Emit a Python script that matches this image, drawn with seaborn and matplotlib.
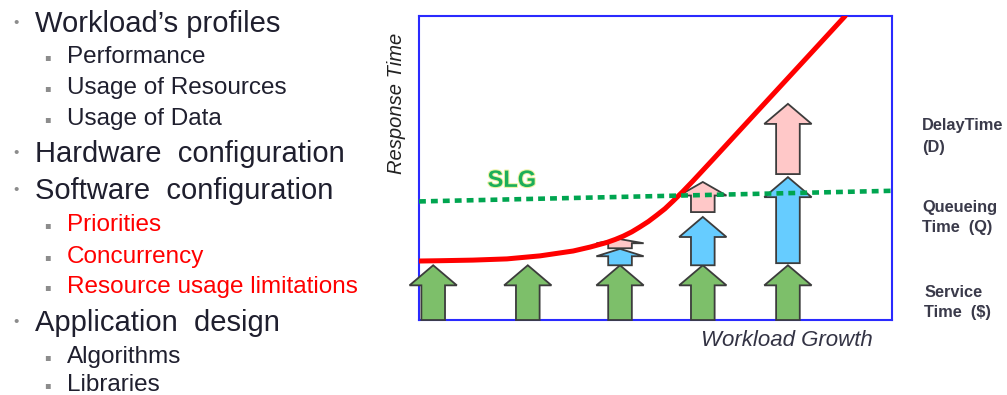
import numpy as np
import pandas as pd
import seaborn as sns
import matplotlib.pyplot as plt
import matplotlib.patheffects as pe

sns.set_theme(style="white")
plt.rcParams['font.family'] = ['Liberation Sans', 'DejaVu Sans']

# left outline
outline_text = ["Workload\u2019s profiles", "Performance", "Usage of Resources", "Usage of Data",
                "Hardware  configuration", "Software  configuration", "Priorities", "Concurrency",
                "Resource usage limitations", "Application  design", "Algorithms", "Libraries"]
outline_level = [0, 1, 1, 1, 0, 0, 1, 1, 1, 0, 1, 1]
outline_red = [0, 0, 0, 0, 0, 0, 1, 1, 1, 0, 0, 0]
outline_baseline = [32, 63, 94, 125, 162, 199, 231, 263, 293, 331, 363, 391]  # px from top

# response time curve (workload growth -> response time)
curve_x = [0, 0.44, 1.14, 1.86, 2.56, 3.26, 3.62, 3.97, 4.15, 4.32, 4.5, 4.67, 4.85, 5.02,
           5.2, 5.37, 5.58, 5.79, 6.22, 6.93, 7.63, 8.33, 9.01]
curve_y = [1.94, 1.95, 1.97, 2.01, 2.11, 2.27, 2.4, 2.55, 2.65, 2.76, 2.9, 3.06, 3.24, 3.44,
           3.66, 3.91, 4.23, 4.57, 5.29, 6.49, 7.67, 8.85, 10.0]

# service level goal
slg_x = [0, 10]
slg_y = [3.9, 4.25]

# stacked arrows at five workload levels
arrow_x = [0.3, 2.3, 4.25, 6.0, 7.8]
service_top = [1.8, 1.8, 1.8, 1.8, 1.8]
queue_base = [1.8, 1.8, 1.8, 1.8, 1.87]
queue_top = [1.8, 1.8, 2.34, 3.39, 4.7]
delay_base = [1.8, 1.8, 2.36, 3.55, 4.8]
delay_top = [1.8, 1.8, 2.66, 4.54, 7.11]

side_text = ["DelayTime", "(D)", "Queueing", "Time  (Q)", "Service", "Time  ($)"]
side_pos = [(922, 130), (922, 152), (922, 212), (922, 232), (925, 297), (924, 317)]

fig = plt.figure(figsize=(10.07, 3.95), dpi=100)
W, H = 1007, 395

ax = fig.add_axes([419 / W, 1 - 320 / H, 473 / W, 304 / H])
ax.set_xlim(0, 10)
ax.set_ylim(0, 10)
ax.set_xticks([])
ax.set_yticks([])
for s in ax.spines.values():
    s.set_color("#2a2aff")
    s.set_linewidth(1.5)
    s.set_visible(True)


def up_arrow(x, y0, y1, color):
    length = y1 - y0
    if length <= 0:
        return
    hl = min(0.66, 0.45 * length)
    ax.arrow(x, y0, 0, length, width=0.5, head_width=1.0, head_length=hl,
             length_includes_head=True, fc=color, ec="#3c3c3c", lw=1.3,
             clip_on=False, zorder=3)


for i in range(len(arrow_x)):
    up_arrow(arrow_x[i], 0, service_top[i], "#7dbf6a")
    up_arrow(arrow_x[i], queue_base[i], queue_top[i], "#66ccff")
    up_arrow(arrow_x[i], delay_base[i], delay_top[i], "#ffc8c8")

df_curve = pd.DataFrame({"growth": curve_x, "resp": curve_y})
sns.lineplot(data=df_curve, x="growth", y="resp", color="#ff0000", lw=3.6, ax=ax,
             zorder=4, solid_capstyle="round", solid_joinstyle="round")
df_slg = pd.DataFrame({"growth": slg_x, "resp": slg_y})
sns.lineplot(data=df_slg, x="growth", y="resp", color="#00a550", lw=3.3, ax=ax,
             linestyle=(0, (1.5, 1.1)), zorder=5)
ax.set_xlabel("")
ax.set_ylabel("")

ax.text(1.45, 4.38, "SLG", color="#1cae5a", fontsize=17, fontweight="bold",
        path_effects=[pe.withStroke(linewidth=1.5, foreground="#eef2a0")])

fig.text(397 / W, 1 - 103 / H, "Response Time", rotation=90, style="italic",
         fontsize=14.5, color="#222222", ha="center", va="center")
fig.text(873 / W, 1 - 346 / H, "Workload Growth", style="italic",
         fontsize=16, color="#333344", ha="right", va="baseline")

for txt, (px, py) in zip(side_text, side_pos):
    fig.text(px / W, 1 - py / H, txt, fontsize=11.8, fontweight="bold",
             color="#3a3a4a", ha="left", va="baseline")

for lvl, txt, red, base in zip(outline_level, outline_text, outline_red, outline_baseline):
    col = "#ff0000" if red else "#1f1f2e"
    if lvl == 0:
        fig.text(35 / W, 1 - base / H, txt, fontsize=21, color=col, va="baseline")
        fig.text(16 / W, 1 - (base - 9) / H, "\u2022", fontsize=11, color="#8c8c8c",
                 ha="center", va="center")
    else:
        fig.text(67 / W, 1 - base / H, txt, fontsize=17.5, color=col, va="baseline")
        fig.text(47 / W, 1 - (base - 6) / H, "\u25aa", fontsize=7, color="#8c8c8c",
                 ha="center", va="center", family="DejaVu Sans")

plt.savefig("out.png", dpi=100)
